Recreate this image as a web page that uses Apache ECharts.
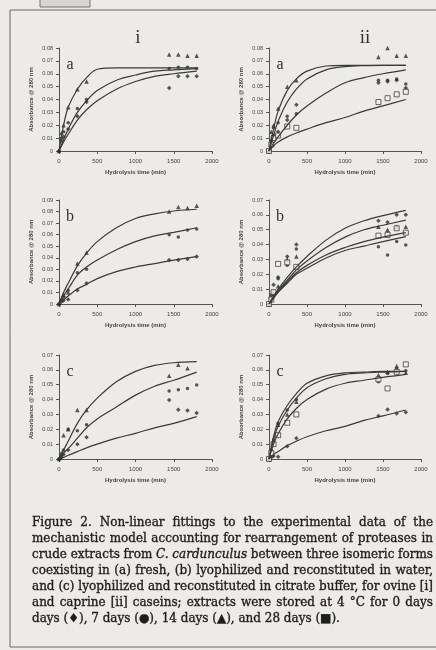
<!DOCTYPE html>
<html>
<head>
<meta charset="utf-8">
<style>
  html, body { margin: 0; padding: 0; background: #ecebe8; }
  #chart { width: 436px; height: 650px; }
</style>
<script src="https://cdn.jsdelivr.net/npm/echarts@6/dist/echarts.min.js"></script>
</head>
<body>
<div id="chart"></div>
<script>
// sampling times (min) of the measured points and of the fitted curves
const sampleTimes = [0, 30, 60, 120, 240, 360, 1440, 1560, 1680, 1800];
const fitTimes = [0, 60, 120, 240, 360, 500, 750, 1000, 1250, 1500, 1800];
const xTicks = [0, 500, 1000, 1500, 2000];

// i-a : ovine, fresh
const iaDiamond = [0, 0.008, 0.011, 0.017, 0.027, 0.038, 0.049, 0.058, 0.058, 0.058];
const iaCircle = [0, 0.010, 0.015, 0.022, 0.033, 0.040, 0.064, 0.065, 0.065, 0.064];
const iaTriangle = [0, 0.014, 0.020, 0.034, 0.048, 0.054, 0.075, 0.075, 0.074, 0.074];
const iaFit1 = [0, 0.020, 0.034, 0.048, 0.057, 0.0635, 0.0645, 0.0645, 0.0645, 0.0645, 0.0645];
const iaFit2 = [0, 0.009, 0.017, 0.030, 0.039, 0.047, 0.055, 0.059, 0.062, 0.063, 0.064];
const iaFit3 = [0, 0.007, 0.013, 0.024, 0.032, 0.039, 0.048, 0.054, 0.058, 0.060, 0.062];

// ii-a : caprine, fresh
const iiaDiamond = [0, 0.006, 0.012, 0.015, 0.024, 0.036, 0.053, 0.054, 0.055, 0.049];
const iiaCircle = [0, 0.008, 0.018, 0.022, 0.027, 0.029, 0.055, 0.055, 0.056, 0.052];
const iiaTriangle = [0, 0.015, 0.020, 0.033, 0.050, 0.055, 0.073, 0.080, 0.074, 0.074];
const iiaSquare = [0, 0.005, 0.010, 0.012, 0.019, 0.018, 0.038, 0.041, 0.044, 0.046];
const iiaFit1 = [0, 0.017, 0.031, 0.047, 0.056, 0.062, 0.066, 0.0665, 0.0665, 0.0665, 0.0665];
const iiaFit2 = [0, 0.012, 0.023, 0.038, 0.048, 0.056, 0.063, 0.0655, 0.0663, 0.0665, 0.0665];
const iiaFit3 = [0, 0.006, 0.011, 0.020, 0.028, 0.035, 0.045, 0.053, 0.057, 0.060, 0.063];
const iiaFit4 = [0, 0.004, 0.007, 0.011, 0.014, 0.017, 0.022, 0.026, 0.031, 0.035, 0.040];

// i-b : ovine, lyophilized + water
const ibDiamond = [0, 0.002, 0.003, 0.004, 0.012, 0.018, 0.038, 0.038, 0.039, 0.041];
const ibCircle = [0, 0.003, 0.006, 0.012, 0.027, 0.030, 0.060, 0.058, 0.064, 0.065];
const ibTriangle = [0, 0.004, 0.008, 0.010, 0.035, 0.0445, 0.080, 0.084, 0.083, 0.085];
const ibFit1 = [0, 0.010, 0.018, 0.033, 0.044, 0.054, 0.066, 0.074, 0.078, 0.0805, 0.082];
const ibFit2 = [0, 0.007, 0.013, 0.025, 0.032, 0.038, 0.047, 0.054, 0.059, 0.062, 0.066];
const ibFit3 = [0, 0.0035, 0.007, 0.013, 0.017, 0.022, 0.028, 0.032, 0.035, 0.038, 0.041];

// ii-b : caprine, lyophilized + water
const iibDiamond = [0, 0.006, 0.013, 0.018, 0.032, 0.040, 0.056, 0.055, 0.060, 0.060];
const iibCircle = [0, 0.002, 0.006, 0.017, 0.026, 0.037, 0.0386, 0.033, 0.042, 0.0397];
const iibTriangle = [0, 0.004, 0.008, 0.012, 0.030, 0.032, 0.052, 0.050, 0.052, 0.052];
const iibSquare = [0, 0.003, 0.008, 0.027, 0.028, 0.025, 0.046, 0.0465, 0.051, 0.048];
const iibFit1 = [0, 0.005, 0.010, 0.018, 0.025, 0.032, 0.043, 0.051, 0.056, 0.0595, 0.063];
const iibFit2 = [0, 0.005, 0.009, 0.016, 0.023, 0.029, 0.038, 0.045, 0.050, 0.053, 0.0565];
const iibFit3 = [0, 0.004, 0.008, 0.015, 0.021, 0.026, 0.033, 0.038, 0.042, 0.045, 0.048];
const iibFit4 = [0, 0.004, 0.008, 0.014, 0.020, 0.024, 0.031, 0.036, 0.039, 0.042, 0.0453];

// i-c : ovine, lyophilized + citrate buffer
const icDiamond = [0, 0.001, 0.003, 0.006, 0.010, 0.0146, 0.0397, 0.0332, 0.0327, 0.031];
const icCircle = [0, 0.002, 0.006, 0.020, 0.019, 0.023, 0.0457, 0.0466, 0.0475, 0.0498];
const icTriangle = [0, 0.004, 0.016, 0.020, 0.033, 0.033, 0.056, 0.0634, 0.061, null];
const icFit1 = [0, 0.006, 0.012, 0.024, 0.033, 0.041, 0.052, 0.059, 0.063, 0.0648, 0.0655];
const icFit2 = [0, 0.004, 0.007, 0.014, 0.021, 0.027, 0.035, 0.043, 0.049, 0.053, 0.0585];
const icFit3 = [0, 0.001, 0.0025, 0.005, 0.0075, 0.010, 0.014, 0.0173, 0.021, 0.024, 0.0285];

// ii-c : caprine, lyophilized + citrate buffer
const iicDiamond = [0, 0.001, 0.002, 0.0015, 0.0086, 0.0139, 0.029, 0.0334, 0.0307, 0.0314];
const iicCircle = [0, 0.006, 0.013, 0.024, 0.033, 0.040, 0.052, 0.0576, 0.0605, 0.0594];
const iicTriangle = [0, 0.006, 0.012, 0.023, 0.030, 0.0386, 0.0565, 0.0587, 0.0626, 0.058];
const iicSquare = [0, 0.004, 0.010, 0.016, 0.0244, 0.030, 0.0536, 0.0475, 0.0587, 0.0637];
const iicFit1 = [0, 0.015, 0.025, 0.036, 0.044, 0.051, 0.056, 0.058, 0.0585, 0.059, 0.059];
const iicFit2 = [0, 0.013, 0.022, 0.033, 0.041, 0.048, 0.054, 0.057, 0.058, 0.0585, 0.059];
const iicFit3 = [0, 0.010, 0.017, 0.027, 0.034, 0.040, 0.047, 0.051, 0.053, 0.055, 0.057];
const iicFit4 = [0, 0.003, 0.005, 0.009, 0.012, 0.015, 0.019, 0.022, 0.026, 0.029, 0.033];

const captionLines = [
  'Figure 2. Non-linear fittings to the experimental data of the',
  'mechanistic model accounting for rearrangement of proteases in',
  'crude extracts from C. cardunculus between three isomeric forms',
  'coexisting in (a) fresh, (b) lyophilized and reconstituted in water,',
  'and (c) lyophilized and reconstituted in citrate buffer, for ovine [i]',
  'and caprine [ii] caseins; extracts were stored at 4 °C for 0 days',
  'days (\u2666), 7 days (\u25CF), 14 days (\u25B2), and 28 days (\u25A0).'
];
const italicWords = ['C.', 'cardunculus'];

const panels = [
  { col: 0, row: 0, letter: 'a', yMax: 0.08, fits: [iaFit1, iaFit2, iaFit3],
    points: [['diamond', iaDiamond], ['circle', iaCircle], ['triangle', iaTriangle]] },
  { col: 1, row: 0, letter: 'a', yMax: 0.08, fits: [iiaFit1, iiaFit2, iiaFit3, iiaFit4],
    points: [['diamond', iiaDiamond], ['circle', iiaCircle], ['triangle', iiaTriangle], ['square', iiaSquare]] },
  { col: 0, row: 1, letter: 'b', yMax: 0.09, fits: [ibFit1, ibFit2, ibFit3],
    points: [['diamond', ibDiamond], ['circle', ibCircle], ['triangle', ibTriangle]] },
  { col: 1, row: 1, letter: 'b', yMax: 0.07, fits: [iibFit1, iibFit2, iibFit3, iibFit4],
    points: [['diamond', iibDiamond], ['circle', iibCircle], ['triangle', iibTriangle], ['square', iibSquare]] },
  { col: 0, row: 2, letter: 'c', yMax: 0.07, fits: [icFit1, icFit2, icFit3],
    points: [['diamond', icDiamond], ['circle', icCircle], ['triangle', icTriangle]] },
  { col: 1, row: 2, letter: 'c', yMax: 0.07, fits: [iicFit1, iicFit2, iicFit3, iicFit4],
    points: [['diamond', iicDiamond], ['circle', iicCircle], ['triangle', iicTriangle], ['square', iicSquare]] }
];

const colLeft = [59, 269];
const colWidth = [153, 152];
const rowTop = [48, 200, 355];
const rowHeight = [103, 104, 104];

const ink = '#2e2e2e';
const axisInk = '#555';
const sans = '"Liberation Sans", Arial, sans-serif';
const serif = '"Liberation Serif", "DejaVu Serif", serif';
const capSerif = '"DejaVu Serif", serif';

const symbolStyle = {
  diamond: { symbol: 'diamond', size: 4.5, fill: ink },
  circle: { symbol: 'circle', size: 3.5, fill: ink },
  triangle: { symbol: 'triangle', size: 4.5, fill: ink },
  square: { symbol: 'rect', size: 5, fill: '#f2f1ee' }
};

const grid = [], xAxis = [], yAxis = [], series = [], graphic = [];

panels.forEach((p, k) => {
  grid.push({
    left: colLeft[p.col], top: rowTop[p.row],
    width: colWidth[p.col], height: rowHeight[p.row]
  });
  xAxis.push({
    gridIndex: k, type: 'value', min: 0, max: 2000, interval: 500,
    name: 'Hydrolysis time (min)', nameLocation: 'middle', nameGap: 18,
    nameTextStyle: { fontSize: 6, color: '#444', fontFamily: sans, fontWeight: 'bold' },
    axisLine: { onZero: false, lineStyle: { color: axisInk, width: 1 } },
    axisTick: { length: 3, lineStyle: { color: axisInk } },
    axisLabel: {
      fontSize: 6, color: '#444', fontFamily: sans, margin: 7,
      formatter: v => (xTicks.includes(v) ? String(v) : '')
    },
    splitLine: { show: false }
  });
  yAxis.push({
    gridIndex: k, type: 'value', min: 0, max: p.yMax, interval: 0.01,
    name: 'Absorbance @ 280 nm', nameLocation: 'middle', nameRotate: 90, nameGap: 25,
    nameTextStyle: { fontSize: 6, color: '#444', fontFamily: sans, fontWeight: 'bold' },
    axisLine: { show: true, lineStyle: { color: axisInk, width: 1 } },
    axisTick: { show: true, length: 3, lineStyle: { color: axisInk } },
    axisLabel: {
      fontSize: 5.5, color: '#444', fontFamily: sans, margin: 6,
      formatter: v => (v === 0 ? '0' : v.toFixed(2))
    },
    splitLine: { show: false }
  });
  p.fits.forEach(vals => {
    series.push({
      type: 'line', xAxisIndex: k, yAxisIndex: k, silent: true,
      data: fitTimes.map((t, i) => [t, vals[i]]),
      smooth: 0.35, symbol: 'none',
      lineStyle: { color: '#3a3a3a', width: 1.2 }
    });
  });
  p.points.forEach(([kind, vals]) => {
    const s = symbolStyle[kind];
    series.push({
      type: 'scatter', xAxisIndex: k, yAxisIndex: k, silent: true,
      data: sampleTimes.map((t, i) => [t, vals[i]]).filter(d => d[1] != null),
      symbol: s.symbol, symbolSize: s.size,
      itemStyle: { color: s.fill, borderColor: ink, borderWidth: kind === 'square' ? 0.9 : 0 }
    });
  });
  graphic.push({
    type: 'text', x: colLeft[p.col] + 11, y: rowTop[p.row] + 17,
    style: { text: p.letter, font: '16px ' + serif, fill: '#333', textAlign: 'center', textVerticalAlign: 'middle' }
  });
});

// frame and panel titles
graphic.push({
  type: 'rect', shape: { x: 10, y: 10, width: 440, height: 637 },
  style: { fill: null, stroke: '#666', lineWidth: 1 }, z: -1
});
graphic.push({
  type: 'rect', shape: { x: 40, y: -2, width: 50, height: 9 },
  style: { fill: '#d6d5d2', stroke: '#777', lineWidth: 1 }, z: -1
});
graphic.push({
  type: 'text', x: 138, y: 38,
  style: { text: 'i', font: '19px ' + serif, fill: '#333', textAlign: 'center', textVerticalAlign: 'middle' }
});
graphic.push({
  type: 'text', x: 365, y: 38,
  style: { text: 'ii', font: '19px ' + serif, fill: '#333', textAlign: 'center', textVerticalAlign: 'middle' }
});

// caption, justified word by word; font size fitted so the last line is as wide as in the scan
const measure = document.createElement('canvas').getContext('2d');
const capLeft = 32, capRight = 433, capTop = 523, capStep = 16, lastLineWidth = 308;
measure.font = '12px ' + capSerif;
const capSize = 12 * lastLineWidth / measure.measureText(captionLines[captionLines.length - 1]).width;
const capFont = it => (it ? 'italic ' : '') + capSize.toFixed(2) + 'px ' + capSerif;
captionLines.forEach((line, li) => {
  const words = line.split(' ');
  const widths = words.map(w => {
    measure.font = capFont(italicWords.includes(w));
    return measure.measureText(w).width;
  });
  measure.font = capFont(false);
  const last = li === captionLines.length - 1;
  const total = widths.reduce((a, b) => a + b, 0);
  const gap = last ? measure.measureText(' ').width : (capRight - capLeft - total) / (words.length - 1);
  let x = capLeft;
  words.forEach((w, wi) => {
    graphic.push({
      type: 'text', x: x, y: capTop + li * capStep,
      style: {
        text: w, font: capFont(italicWords.includes(w)), fill: '#1e1e1e',
        stroke: '#1e1e1e', lineWidth: 0.35,
        textAlign: 'left', textVerticalAlign: 'middle'
      }
    });
    x += widths[wi] + gap;
  });
});

const chart = echarts.init(document.getElementById('chart'), null, { renderer: 'canvas' });
chart.setOption({
  backgroundColor: '#ecebe8',
  animation: false,
  grid, xAxis, yAxis, series, graphic
});
</script>
</body>
</html>
